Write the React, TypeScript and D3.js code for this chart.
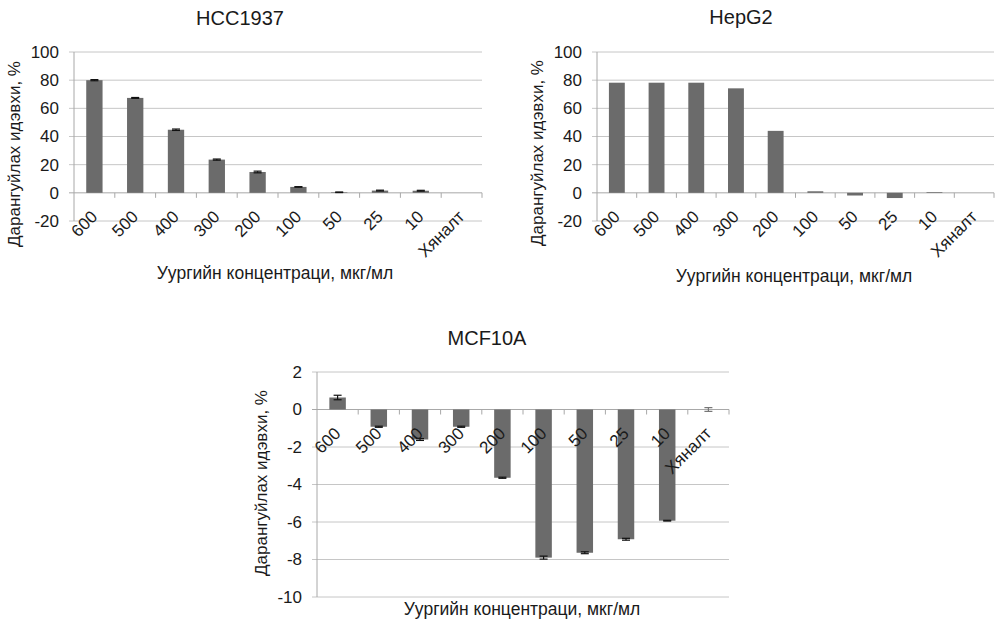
import React from "react";
import * as d3 from "d3";

// concentration categories (shared by all three panels)
const categories = ["600", "500", "400", "300", "200", "100", "50", "25", "10", "Хяналт"];

const hccValues = [80, 67.4, 44.8, 23.6, 14.8, 4.2, 0.4, 1.6, 1.5, null];
const hccErrors = [0.4, 0.3, 0.5, 0.4, 0.6, 0.2, 0.2, 0.3, 0.3, null];

const hepValues = [78.2, 78.2, 78.2, 74.2, 44, 1.1, -1.9, -3.7, 0.5, null];
const hepErrors = [0, 0, 0, 0, 0, 0, 0, 0, 0, null];

const mcfValues = [0.64, -0.92, -1.6, -0.92, -3.64, -7.9, -7.64, -6.92, -5.93, 0];
const mcfErrors = [0.12, 0.03, 0.05, 0.03, 0.03, 0.08, 0.05, 0.05, 0.02, 0.1];

const yTicksBig = [-20, 0, 20, 40, 60, 80, 100];
const yTicksSmall = [-10, -8, -6, -4, -2, 0, 2];

const yLabel = "Дарангуйлах идэвхи, %";
const xLabel = "Уургийн концентраци, мкг/мл";

const FONT = "'Liberation Sans', Arial, sans-serif";
const BAR = "#6b6b6b";
const GRID = "#c6c6c6";
const AXIS = "#a8a8a8";
const TXT = "#1a1a1a";

function Panel({title, values, errors, ticks, left, right, top, bottom, titleX, titleY, yLabX, yLabY, xLabX, xLabY}) {
    const x = d3.scaleBand().domain(categories).range([left, right]);
    const y = d3.scaleLinear().domain([ticks[0], ticks[ticks.length - 1]]).range([bottom, top]);
    const bw = x.bandwidth() * 0.4;
    const zeroY = y(0);

    return (
        <g fontFamily={FONT} fill={TXT}>
            <text x={titleX} y={titleY} textAnchor="middle" fontSize={20}>{title}</text>

            {ticks.map(t => (
                <g key={t}>
                    <line x1={left - 5} x2={right} y1={y(t)} y2={y(t)} stroke={t === 0 ? AXIS : GRID} strokeWidth={1} />
                    <text x={left - 15} y={y(t)} dy="0.35em" textAnchor="end" fontSize={17}>{t}</text>
                </g>
            ))}
            <line x1={left} x2={left} y1={top} y2={bottom} stroke={AXIS} />

            {/* tick marks at band borders, hanging under the zero line */}
            {categories.map((c, i) => (
                <line key={"tk" + c} x1={x(c) + x.bandwidth()} x2={x(c) + x.bandwidth()} y1={zeroY} y2={zeroY + 5} stroke={AXIS} />
            ))}

            {categories.map((c, i) => {
                const v = values[i];
                if (v === null) return null;
                const cx = x(c) + x.bandwidth() / 2;
                const y0 = Math.min(y(v), zeroY);
                const h = Math.abs(y(v) - zeroY);
                const e = errors[i] || 0;
                const errColor = c === "Хяналт" ? "#777" : "#111";
                return (
                    <g key={"b" + c}>
                        {h > 0 && <rect x={cx - bw / 2} y={y0} width={bw} height={h} fill={BAR} />}
                        {e > 0 && (
                            <g stroke={errColor} strokeWidth={1.2}>
                                <line x1={cx} x2={cx} y1={y(v + e)} y2={y(v - e)} />
                                <line x1={cx - 4} x2={cx + 4} y1={y(v + e)} y2={y(v + e)} />
                                <line x1={cx - 4} x2={cx + 4} y1={y(v - e)} y2={y(v - e)} />
                            </g>
                        )}
                    </g>
                );
            })}

            {categories.map(c => {
                const cx = x(c) + x.bandwidth() / 2 + 4;
                return (
                    <text key={"l" + c} x={cx} y={zeroY + 25} textAnchor="end" fontSize={17}
                          transform={`rotate(-45, ${cx}, ${zeroY + 25})`}>{c}</text>
                );
            })}

            <text x={yLabX} y={yLabY} textAnchor="middle" fontSize={17}
                  transform={`rotate(-90, ${yLabX}, ${yLabY})`}>{yLabel}</text>
            <text x={xLabX} y={xLabY} textAnchor="middle" fontSize={17.5}>{xLabel}</text>
        </g>
    );
}

export default function App() {
    return (
        <svg width={995} height={622} style={{position: "absolute", left: 0, top: 0, background: "#fff"}}>
            <rect width={995} height={622} fill="#fff" />
            <Panel title="HCC1937" values={hccValues} errors={hccErrors} ticks={yTicksBig}
                   left={74} right={482} top={52} bottom={221}
                   titleX={240} titleY={25} yLabX={20} yLabY={154} xLabX={275} xLabY={279} />
            <Panel title="HepG2" values={hepValues} errors={hepErrors} ticks={yTicksBig}
                   left={597} right={994} top={52} bottom={221}
                   titleX={741} titleY={24} yLabX={543} yLabY={153} xLabX={794} xLabY={282} />
            <Panel title="MCF10A" values={mcfValues} errors={mcfErrors} ticks={yTicksSmall}
                   left={317} right={729} top={372} bottom={597}
                   titleX={487} titleY={345} yLabX={267} yLabY={483} xLabX={522} xLabY={615} />
        </svg>
    );
}
